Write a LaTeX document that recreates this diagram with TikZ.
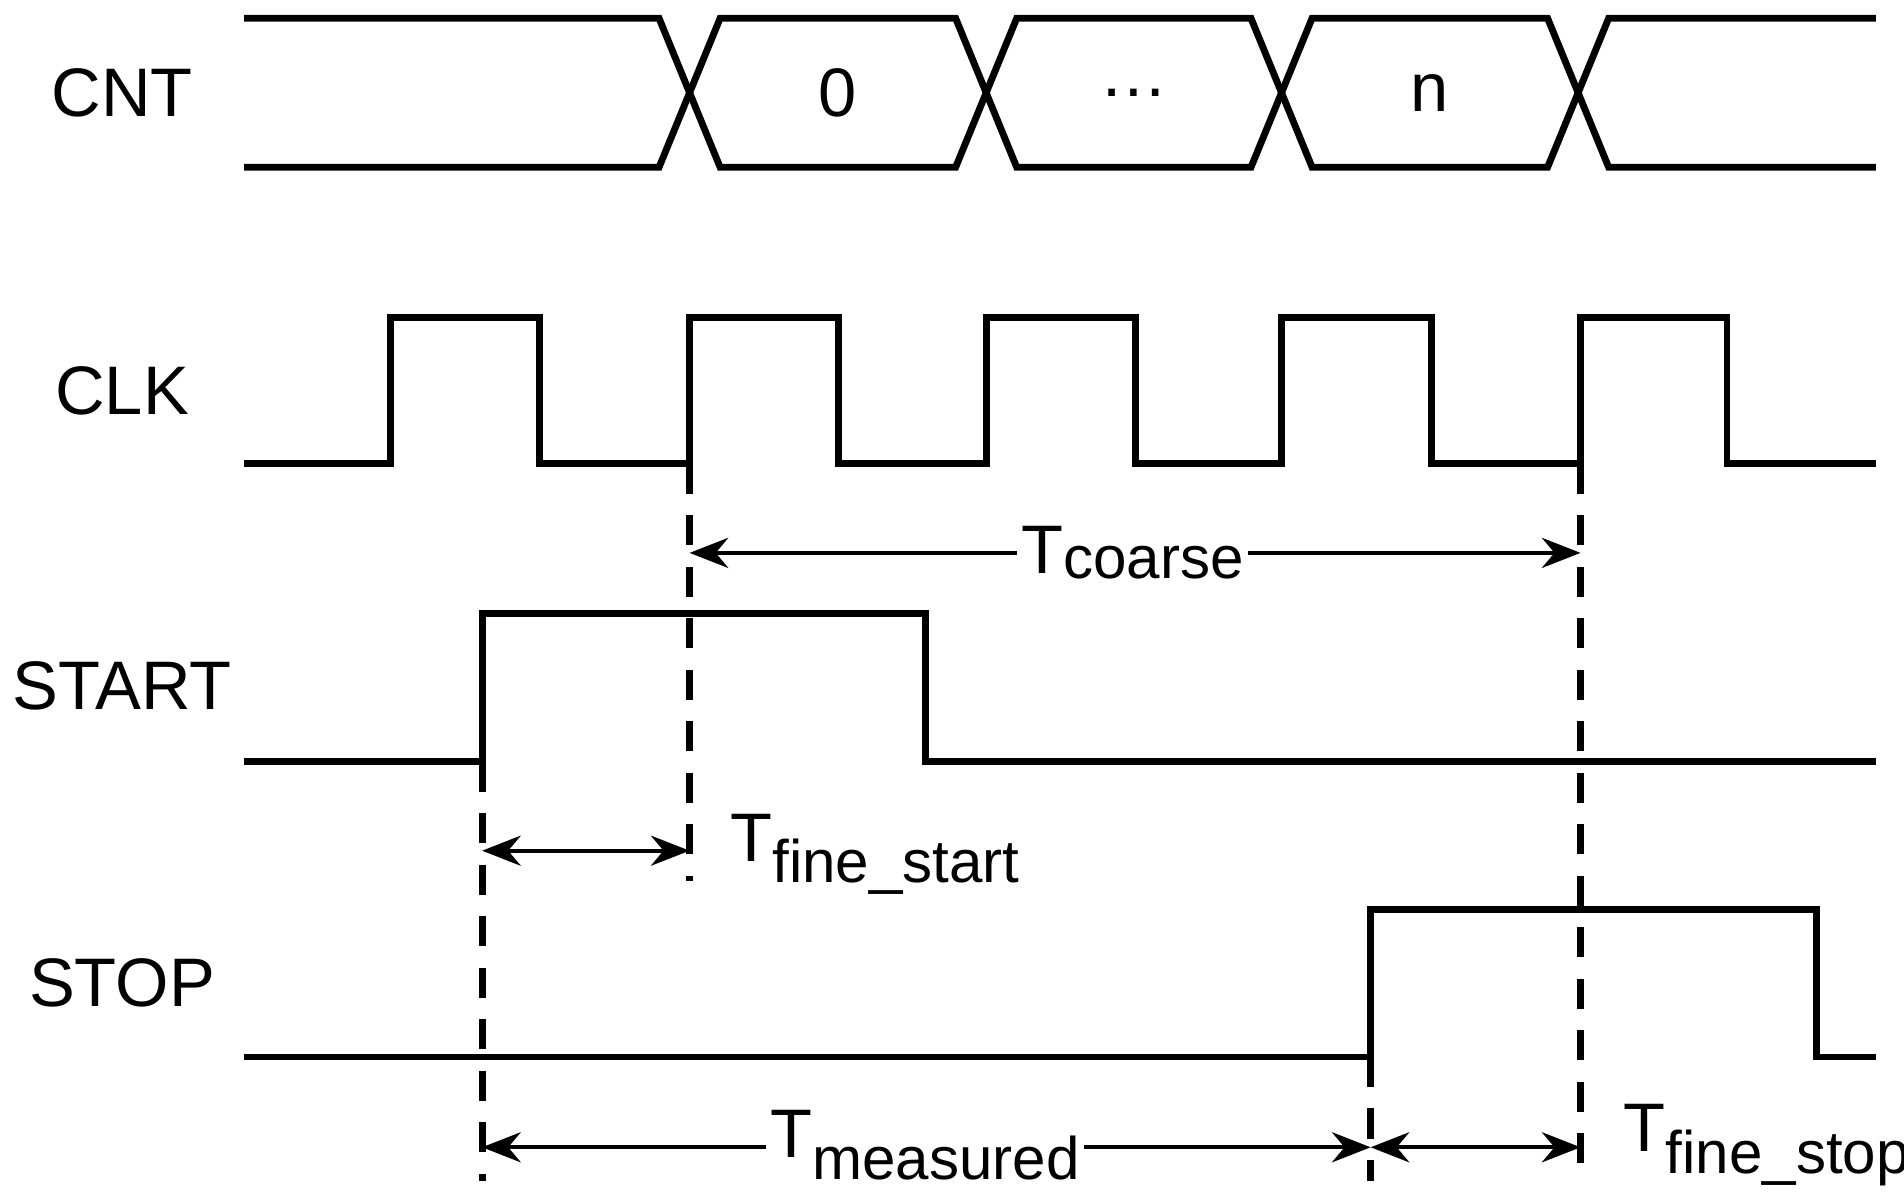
\documentclass[tikz,border=0pt]{standalone}
\usepackage{fontspec}
\setmainfont{Liberation Sans}
\usetikzlibrary{arrows.meta}
\begin{document}
\begin{tikzpicture}[x=0.01cm,y=-0.01cm,
  wave/.style={line width=1.6pt,line join=miter},
  dashln/.style={line width=1.6pt,dash pattern=on 7pt off 5pt},
  meas/.style={line width=1pt,{Stealth[length=9pt,width=7pt]}-{Stealth[length=9pt,width=7pt]}},
  sig/.style={font=\fontsize{16}{19}\selectfont},
  lab/.style={font=\fontsize{16}{19}\selectfont,fill=white,inner sep=1pt},
  val/.style={font=\fontsize{16}{19}\selectfont}]
\useasboundingbox (0,0) rectangle (1560,982);
% signal names
\node[sig] (ncnt) at (100,76) {CNT};
\node[sig] (nclk) at (100,320) {CLK};
\node[sig] (nstart) at (100,562) {START};
\node[sig] (nstop) at (100,805) {STOP};
% CNT bus
\draw[wave] (200,15) -- (540,15) -- (590,137) -- (783,137) -- (833,15) -- (1025,15) -- (1075,137) -- (1268,137) -- (1318,15) -- (1537,15);
\draw[wave] (200,137) -- (540,137) -- (590,15) -- (783,15) -- (833,137) -- (1025,137) -- (1075,15) -- (1268,15) -- (1318,137) -- (1537,137);
\node[val] (v0) at (686,76) {0};
\node[val] (v1) at (929,76) {\ldots};
\node[val] (v2) at (1171,76) {n};
% CLK
\draw[wave] (200,380) -- (320,380) -- (320,260) -- (442,260) -- (442,380) -- (565,380) -- (565,260) -- (687,260) -- (687,380) -- (808,380) -- (808,260) -- (930,260) -- (930,380) -- (1050,380) -- (1050,260) -- (1173,260) -- (1173,380) -- (1295,380) -- (1295,260) -- (1415,260) -- (1415,380) -- (1537,380);
% START
\draw[wave] (200,624) -- (395,624) -- (395,503) -- (758,503) -- (758,624) -- (1537,624);
% STOP
\draw[wave] (200,866) -- (1123,866) -- (1123,745) -- (1488,745) -- (1488,866) -- (1537,866);
% dashed
\draw[dashln] (565,380) -- (565,722);
\draw[dashln] (1295,380) -- (1295,968);
\draw[dashln] (395,624) -- (395,968);
\draw[dashln] (1123,866) -- (1123,968);
% arrows
\coordinate (c1) at (565,453); \coordinate (c2) at (1295,453);
\draw[meas] (c1) -- (c2);
\node[lab] (tc) at (928,453) {T\raisebox{-0.15ex}{\fontsize{14}{17}\selectfont coarse}};
\coordinate (s1) at (395,697); \coordinate (s2) at (565,697);
\draw[meas] (s1) -- (s2);
\node[sig,anchor=west] (ts) at (586,700) {T\raisebox{-0.6ex}{\fontsize{14}{17}\selectfont fine\_start}};
\coordinate (m1) at (395,940); \coordinate (m2) at (1123,940); \coordinate (m3) at (1295,940);
\draw[meas] (m1) -- (m2);
\draw[meas] (m2) -- (m3);
\node[lab] (tm) at (758,938) {T\raisebox{-0.6ex}{\fontsize{14}{17}\selectfont measured}};
\node[sig,anchor=west] (tf) at (1318,938) {T\raisebox{-0.6ex}{\fontsize{14}{17}\selectfont fine\_stop}};
\end{tikzpicture}
\end{document}
